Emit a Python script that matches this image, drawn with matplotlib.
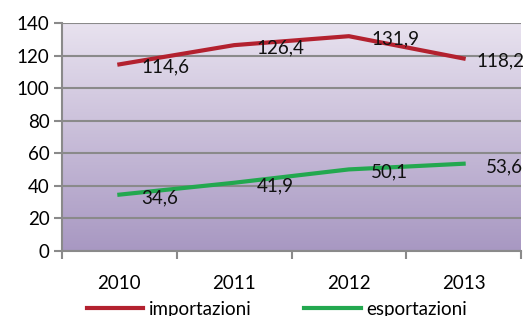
import matplotlib
matplotlib.use("Agg")
import matplotlib.pyplot as plt
import numpy as np
from matplotlib.colors import LinearSegmentedColormap

years = ["2010", "2011", "2012", "2013"]
importazioni = [114.6, 126.4, 131.9, 118.2]
esportazioni = [34.6, 41.9, 50.1, 53.6]
imp_labels = ["114,6", "126,4", "131,9", "118,2"]
exp_labels = ["34,6", "41,9", "50,1", "53,6"]

plt.rcParams['font.family'] = ['Lato', 'DejaVu Sans']
FS = 13.5

fig = plt.figure(figsize=(5.3, 3.16), dpi=100)
ax = fig.add_axes([62/530, 1-251/316, (521-62)/530, (251-23)/316])

x = np.arange(len(years))
ax.set_xlim(-0.5, len(years)-0.5)
ax.set_ylim(0, 140)

# gradient background
cmap = LinearSegmentedColormap.from_list("bg", ["#a898c2", "#e8e2ef"])
grad = np.linspace(0, 1, 256).reshape(-1, 1)
ax.imshow(grad, extent=[-0.5, len(years)-0.5, 0, 140], origin="lower",
          aspect="auto", cmap=cmap, zorder=0)

ax.set_yticks(np.arange(0, 141, 20))
ax.yaxis.grid(True, color="#8a8a8a", linewidth=1.5, zorder=1)
ax.set_axisbelow(False)

red = "#b3212f"
green = "#23a84f"
l1, = ax.plot(x, importazioni, color=red, linewidth=3, zorder=3, label="importazioni")
l2, = ax.plot(x, esportazioni, color=green, linewidth=3, zorder=3, label="esportazioni")

for i, (xi, v, t) in enumerate(zip(x, importazioni, imp_labels)):
    dx = 9.5 if i == len(x) - 1 else 16
    ax.annotate(t, (xi, v), xytext=(dx, -2), textcoords="offset points",
                ha="left", va="center", fontsize=FS, color="#111111", zorder=4,
                annotation_clip=False)
for xi, v, t in zip(x, esportazioni, exp_labels):
    ax.annotate(t, (xi, v), xytext=(16, -2), textcoords="offset points",
                ha="left", va="center", fontsize=FS, color="#111111", zorder=4,
                annotation_clip=False)

ax.set_xticks(x)
ax.set_xticklabels(years, fontsize=FS)
ax.set_xticks(np.arange(-0.5, len(years), 1), minor=True)
ax.tick_params(axis="x", which="major", length=0, pad=17)
ax.tick_params(axis="x", which="minor", length=6, width=1.5, color="#8a8a8a")
ax.tick_params(axis="y", length=6, width=1.5, color="#8a8a8a", labelsize=FS, pad=3)

for s in ["top", "right"]:
    ax.spines[s].set_visible(False)
for s in ["left", "bottom"]:
    ax.spines[s].set_color("#8a8a8a")
    ax.spines[s].set_linewidth(1.5)

fig.legend(handles=[l1, l2], loc="center", bbox_to_anchor=(277/530, 1-309/316),
           ncol=2, frameon=False, fontsize=FS, handlelength=3.0, columnspacing=2.8,
           handletextpad=0.3)

fig.savefig("out.png", dpi=100)
